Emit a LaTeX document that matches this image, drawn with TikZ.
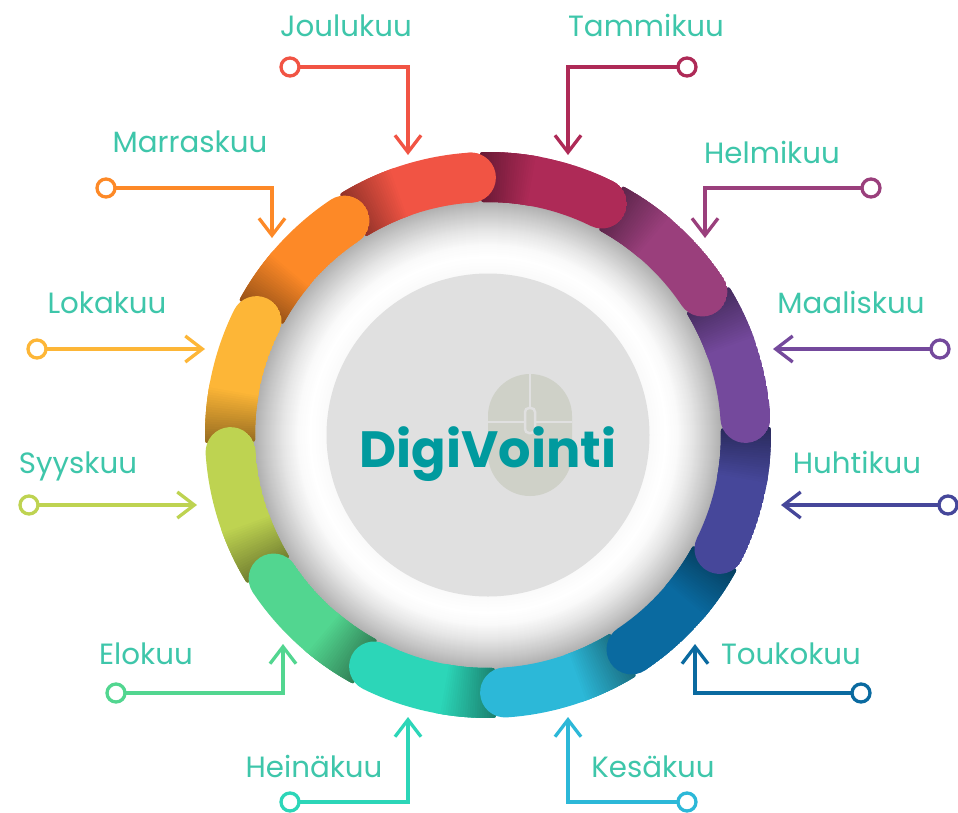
\documentclass[tikz,border=0pt]{standalone}
\usepackage{fontspec}
\setmainfont{Poppins}
\usetikzlibrary{arrows.meta}
\definecolor{lbl}{HTML}{3EC6AA}
\definecolor{cJan}{HTML}{AE2A57}
\definecolor{cFeb}{HTML}{9A3F7C}
\definecolor{cMar}{HTML}{74499C}
\definecolor{cApr}{HTML}{46479A}
\definecolor{cMay}{HTML}{0A6AA0}
\definecolor{cJun}{HTML}{2CB8D8}
\definecolor{cJul}{HTML}{2CD6B8}
\definecolor{cAug}{HTML}{52D690}
\definecolor{cSep}{HTML}{BED351}
\definecolor{cOct}{HTML}{FDB637}
\definecolor{cNov}{HTML}{FD8927}
\definecolor{cDec}{HTML}{F15444}
\definecolor{discgrey}{HTML}{E0E0E0}
\definecolor{mousegrey}{HTML}{CFD1C8}
\definecolor{brand}{HTML}{009A9E}
\tikzset{
  lab/.style={text=lbl,font=\fontsize{29.3}{31}\selectfont,inner sep=0pt,anchor=base},
  endring/.style={circle,draw=#1,fill=white,line width=3.3pt,minimum size=18pt,inner sep=0pt,outer sep=0pt},
  conn/.style={draw=#1,line width=3.3pt,-{Straight Barb[length=17pt,width=26pt]}},
}
% #1 cap-centre angle
\newcommand{\segshape}[1]{%
  ({#1+27.8}:279) .. controls ({#1+27.8}:283) .. ({#1+26.8}:283)
  arc[start angle={#1+26.8},end angle=#1,radius=283]
  arc[start angle=#1,end angle={#1-180},radius=25]
  arc[start angle=#1,end angle={#1+26.8},radius=233]
  .. controls ({#1+27.8}:233) .. ({#1+27.8}:237) -- cycle}
\newcommand{\segment}[2]{%
  \begin{scope}
    \clip \segshape{#2};
    \fill[#1] \segshape{#2};
    \foreach \t in {0,...,24}{
      \pgfmathsetmacro{\mixv}{58+42*\t/24}
      \pgfmathsetmacro{\aS}{#2+28.5-\t*0.5}
      \pgfmathsetmacro{\aE}{\aS-1}
      \draw[line width=56pt,color={#1!\mixv!black}]
        (\aS:258) arc[start angle=\aS,end angle=\aE,radius=258];
    }
  \end{scope}}
\begin{document}
\begin{tikzpicture}[x=1pt,y=-1pt]
\useasboundingbox (0,0) rectangle (958,812);
\fill[white] (0,0) rectangle (958,812);
% connectors
\node[endring=cDec] (dA) at (290,67) {};
\coordinate (dB) at (408,67); \coordinate (dC) at (408,155);
\draw[conn=cDec] (dA) -- (dB) -- (dC);
\node[endring=cJan] (jA) at (687,67) {};
\coordinate (jB) at (568,67); \coordinate (jC) at (568,155);
\draw[conn=cJan] (jA) -- (jB) -- (jC);
\node[endring=cFeb] (fA) at (871,188) {};
\coordinate (fB) at (705,188); \coordinate (fC) at (705,238);
\draw[conn=cFeb] (fA) -- (fB) -- (fC);
\node[endring=cMar] (mA) at (940,349) {};
\coordinate (mC) at (773,349);
\draw[conn=cMar] (mA) -- (mC);
\node[endring=cApr] (aA) at (948,505) {};
\coordinate (aC) at (781,505);
\draw[conn=cApr] (aA) -- (aC);
\node[endring=cMay] (tA) at (861,693) {};
\coordinate (tB) at (695,693); \coordinate (tC) at (695,644);
\draw[conn=cMay] (tA) -- (tB) -- (tC);
\node[endring=cJun] (kA) at (687,802) {};
\coordinate (kB) at (568,802); \coordinate (kC) at (568,717);
\draw[conn=cJun] (kA) -- (kB) -- (kC);
\node[endring=cJul] (hA) at (290,802) {};
\coordinate (hB) at (408,802); \coordinate (hC) at (408,717);
\draw[conn=cJul] (hA) -- (hB) -- (hC);
\node[endring=cAug] (eA) at (116,693) {};
\coordinate (eB) at (283,693); \coordinate (eC) at (283,644);
\draw[conn=cAug] (eA) -- (eB) -- (eC);
\node[endring=cSep] (sA) at (29,505) {};
\coordinate (sC) at (197,505);
\draw[conn=cSep] (sA) -- (sC);
\node[endring=cOct] (lA) at (37,349) {};
\coordinate (lC) at (205,349);
\draw[conn=cOct] (lA) -- (lC);
\node[endring=cNov] (nA) at (106,188) {};
\coordinate (nB) at (272,188); \coordinate (nC) at (272,238);
\draw[conn=cNov] (nA) -- (nB) -- (nC);
% labels
\node[lab] (tDec) at (346,36) {Joulukuu};
\node[lab] (tJan) at (646,36) {Tammikuu};
\node[lab] (tFeb) at (772,163) {Helmikuu};
\node[lab] (tMar) at (851,313) {Maaliskuu};
\node[lab] (tApr) at (857,473) {Huhtikuu};
\node[lab] (tMay) at (791,664) {Toukokuu};
\node[lab] (tJun) at (653,777) {Kesäkuu};
\node[lab] (tJul) at (314,777) {Heinäkuu};
\node[lab] (tAug) at (146,664) {Elokuu};
\node[lab] (tSep) at (78,473) {Syyskuu};
\node[lab] (tOct) at (107,313) {Lokakuu};
\node[lab] (tNov) at (190,152) {Marraskuu};
% wheel
\begin{scope}[shift={(488,435)},yscale=-1]
  \foreach \ra/\rb/\ga/\gb in {235/222/68/78,222/205/78/90,205/190/90/98,190/178/98/100,178/161/100/98}{
    \pgfmathtruncatemacro{\nsteps}{\ra-\rb}
    \foreach \i in {0,...,\nsteps}{
      \pgfmathsetmacro{\rr}{\ra-\i}
      \pgfmathsetmacro{\gg}{\ga+(\gb-\ga)*\i/\nsteps}
      \fill[color={white!\gg!black}] (0,0) circle[radius=\rr];
    }
  }
  \fill[discgrey] (0,0) circle[radius=161.5];
  \segment{cDec}{93.8}
  \segment{cNov}{123.8}
  \segment{cOct}{153.8}
  \segment{cSep}{183.8}
  \segment{cAug}{213.8}
  \segment{cJul}{243.8}
  \segment{cJun}{273.8}
  \segment{cMay}{303.8}
  \segment{cApr}{333.8}
  \segment{cMar}{3.8}
  \segment{cFeb}{33.8}
  \segment{cJan}{63.8}
  \fill[cDec] (93.8:258) circle[radius=25];
\end{scope}
% mouse icon
\fill[mousegrey] (488,416) arc[start angle=180,end angle=360,radius=42] -- (572,454) arc[start angle=0,end angle=180,radius=42] -- cycle;
\draw[discgrey,line width=2.5pt] (530,374) -- (530,408);
\draw[discgrey,line width=2.5pt] (488,422) -- (525,422) (535,422) -- (572,422);
\draw[discgrey,line width=2.5pt,rounded corners=4pt,fill=mousegrey] (525,408) rectangle (535,433);
\node[text=brand,font=\fontsize{51}{54}\bfseries,inner sep=0pt,anchor=base] (title) at (488,467) {DigiVointi};
\end{tikzpicture}
\end{document}
